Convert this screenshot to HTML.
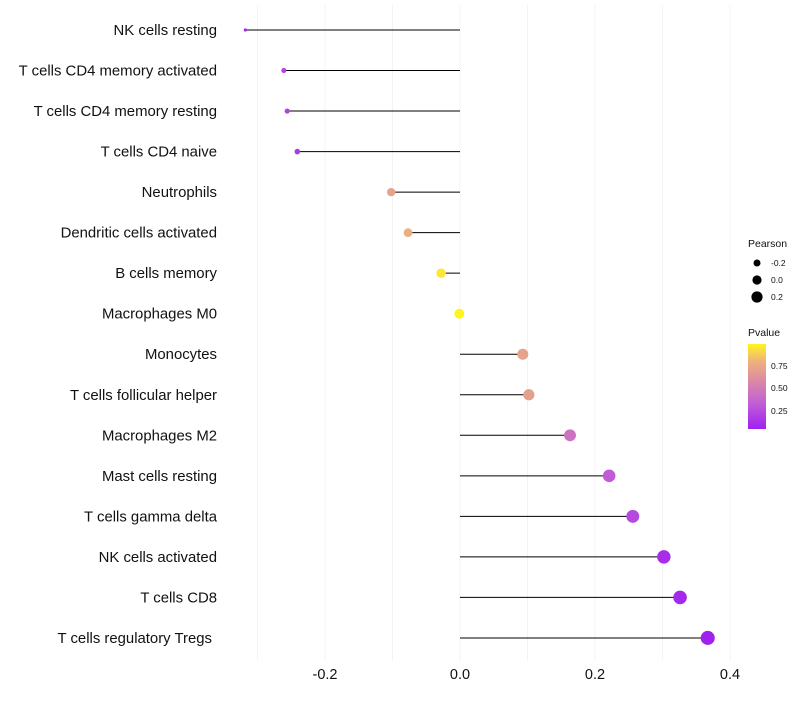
<!DOCTYPE html>
<html><head><meta charset="utf-8"><style>
body{margin:0;background:#fff;font-family:"Liberation Sans",sans-serif}
</style></head><body>
<svg id="chart" width="800" height="700" xmlns="http://www.w3.org/2000/svg">
<defs><linearGradient id="pg" x1="0" y1="1" x2="0" y2="0">
<stop offset="0" stop-color="#A020F0"/><stop offset="0.3" stop-color="#C25ED6"/><stop offset="0.55" stop-color="#D987A8"/><stop offset="0.8" stop-color="#EFB27A"/><stop offset="1" stop-color="#FFF51E"/></linearGradient></defs>
<g id="grid"></g><g id="marks"></g><g id="labels"></g>
<g id="legend"></g>
</svg>
<script>
const categories=["NK cells resting","T cells CD4 memory activated","T cells CD4 memory resting","T cells CD4 naive","Neutrophils","Dendritic cells activated","B cells memory","Macrophages M0","Monocytes","T cells follicular helper","Macrophages M2","Mast cells resting","T cells gamma delta","NK cells activated","T cells CD8","T cells regulatory  Tregs"];
const pearson=[-0.318,-0.261,-0.256,-0.241,-0.102,-0.077,-0.028,-0.001,0.093,0.102,0.163,0.221,0.256,0.302,0.326,0.367];
const pvalue=[0.08,0.22,0.2,0.17,0.72,0.78,0.95,0.99,0.72,0.7,0.45,0.33,0.25,0.12,0.1,0.04];
const xTicks=[-0.2,0,0.2,0.4];
const xTickLabels=["-0.2","0.0","0.2","0.4"];
const NS="http://www.w3.org/2000/svg";
const x=v=>460+v*675;
const y=i=>30+i*40.53;
const r=v=>Math.sqrt(Math.max(0.5,2.5+47*(v+0.318)/0.685));
const stops=[[0,[160,32,240]],[0.3,[194,94,214]],[0.55,[217,135,168]],[0.8,[239,178,122]],[1,[255,245,30]]];
function col(p){let t=(p-0.06)/0.93;t=Math.max(0,Math.min(1,t));for(let k=1;k<stops.length;k++){if(t<=stops[k][0]){const a=stops[k-1],b=stops[k];const f=(t-a[0])/(b[0]-a[0]);return "rgb("+a[1].map((c,j)=>Math.round(c+(b[1][j]-c)*f)).join(",")+")";}}return "rgb(255,245,30)";}
function mk(tag,attrs,parent,txt){const e=document.createElementNS(NS,tag);for(const k in attrs)e.setAttribute(k,attrs[k]);if(txt!==undefined)e.textContent=txt;document.getElementById(parent).appendChild(e);return e;}
for(let v=-0.3;v<=0.41;v+=0.1){const g=mk("line",{x1:x(v),x2:x(v),y1:5,y2:660,stroke:"#f0f0f0","stroke-width":0.8},"grid");

}
xTicks.forEach((v,i)=>{const t=mk("text",{x:x(v),y:679,"text-anchor":"middle","font-size":14.5,fill:"#111"},"labels",xTickLabels[i]);

});
categories.forEach((c,i)=>{
const t=mk("text",{x:c.startsWith("T cells regulatory")?212:217,y:y(i)+5,"text-anchor":"end","font-size":14.9,fill:"#111","xml:space":"preserve"},"labels",c);


const l=mk("line",{x1:x(0),x2:x(pearson[i]),y1:y(i),y2:y(i),stroke:"#000","stroke-width":1},"marks");


const p=mk("circle",{cx:x(pearson[i]),cy:y(i),r:r(pearson[i]),fill:col(pvalue[i])},"marks");


});
const lt=mk("text",{x:748,y:247,"font-size":10.5,fill:"#111"},"legend","Pearson");


[-0.2,0,0.2].forEach((v,i)=>{const yy=263+i*17;
const c=mk("circle",{cx:757,cy:yy,r:[3.5,4.6,5.6][i],fill:"#000"},"legend");


const t=mk("text",{x:771,y:yy+3,"font-size":8.5,fill:"#111"},"legend",["-0.2","0.0","0.2"][i]);

});
const pt=mk("text",{x:748,y:336,"font-size":10.5,fill:"#111"},"legend","Pvalue");


const bar=mk("rect",{x:748,y:344,width:18,height:85,fill:"url(#pg)"},"legend");


[[0.75,366],[0.5,388],[0.25,411]].forEach(([v,yy])=>{const t=mk("text",{x:771,y:yy+3,"font-size":8.5,fill:"#111"},"legend",v.toFixed(2));

});
</script>
</body></html>
